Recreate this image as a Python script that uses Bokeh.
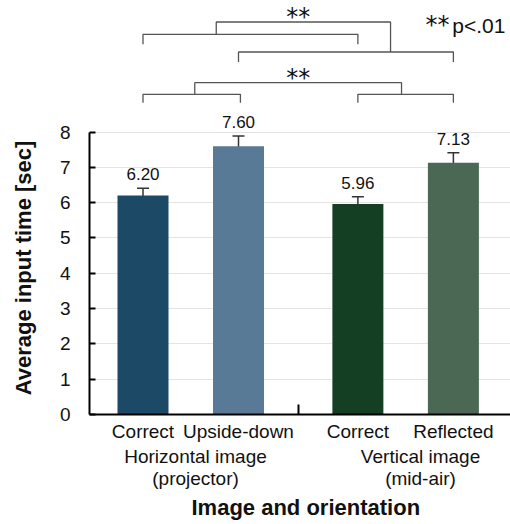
import math
from bokeh.plotting import figure
from bokeh.layouts import row
from bokeh.models import (Range1d, FixedTicker, Label, Whisker, TeeHead,
                          ColumnDataSource, LinearAxis, Title)
from bokeh.core.properties import value
from bokeh.embed import file_html
from bokeh.resources import INLINE

# ---- data ----
categories = ["Correct", "Upside-down", "Correct", "Reflected"]
group_names = ["Horizontal image", "Vertical image"]
group_subs = ["(projector)", "(mid-air)"]
values = [6.20, 7.60, 5.96, 7.13]
errors = [0.21, 0.29, 0.21, 0.28]
y_ticks = [0, 1, 2, 3, 4, 5, 6, 7, 8]
sig_label = "**"
p_label = "p<.01"
x_title = "Image and orientation"
y_title = "Average input time [sec]"

# ---- layout ----
bar_x = [0.0, 1.0, 2.25, 3.25]
group_x = [0.55, 2.906]
sep_x = 1.625
label_gap = 0.39
colors = ["#1b4966", "#587a96", "#143f23", "#4a6854"]
FONT = "Liberation Sans"
TXT = "#111111"
H = 524
BOTTOM = 110
FRAME_H = H - BOTTOM
LEFT_W = 40

upper = [v + e for v, e in zip(values, errors)]
lower = [v - e for v, e in zip(values, errors)]
src = ColumnDataSource(dict(
    x=bar_x, top=values, upper=upper, lower=lower, color=colors,
    lab=["%.2f" % v for v in values],
    lab_y=[u + label_gap for u in upper],
))

# ---- y-axis title strip (frame aligned with the main frame) ----
pt = figure(width=LEFT_W, height=H, output_backend="svg", toolbar_location=None,
            x_range=Range1d(0, LEFT_W), y_range=Range1d(0, FRAME_H),
            x_axis_type=None, y_axis_type=None,
            min_border_left=0, min_border_right=0, min_border_top=0,
            min_border_bottom=BOTTOM)
pt.outline_line_color = None
pt.grid.visible = False
pt.text(x=[22.5], y=[FRAME_H - 267.5], text=[y_title], angle=math.pi / 2,
        text_align="center", text_baseline="middle",
        text_font=value(FONT), text_font_style="bold", text_font_size="22px",
        text_color=TXT)

# ---- main chart ----
p = figure(width=510 - LEFT_W, height=H, output_backend="svg", toolbar_location=None,
           x_range=Range1d(-0.5602, 3.848), y_range=Range1d(0, 11.725),
           min_border_left=89 - LEFT_W, min_border_right=0, min_border_top=0,
           min_border_bottom=BOTTOM)
p.outline_line_color = None
p.background_fill_color = "white"
p.border_fill_color = "white"

# grid
p.xgrid.visible = False
p.ygrid.ticker = FixedTicker(ticks=y_ticks)
p.ygrid.grid_line_color = "#e4e4e4"
p.ygrid.grid_line_width = 1

# bars
p.vbar(x="x", top="top", bottom=0, width=0.534, fill_color="color", line_color=None, source=src)

# error bars
wh = Whisker(source=src, base="x", upper="upper", lower="lower",
             line_color="#333333", line_width=1.5,
             upper_head=TeeHead(size=12, line_color="#333333", line_width=1.5),
             lower_head=TeeHead(size=12, line_color="#333333", line_width=1.5))
p.add_layout(wh)

# value labels
p.text(x="x", y="lab_y", text="lab", source=src,
       text_align="center", text_baseline="alphabetic",
       text_font=value(FONT), text_font_size="17px", text_color=TXT)

# y axis
ya = p.yaxis[0]
ya.ticker = FixedTicker(ticks=y_ticks)
ya.bounds = (0, 8)
ya.axis_line_width = 2
ya.axis_line_color = "black"
ya.major_tick_in = 6
ya.major_tick_out = 0
ya.major_tick_line_width = 2
ya.minor_tick_line_color = None
ya.major_label_standoff = 19
ya.major_label_text_font = FONT
ya.major_label_text_font_size = "19px"
ya.major_label_text_color = TXT

# x axis (bar labels)
xa = p.xaxis[0]
xa.ticker = FixedTicker(ticks=bar_x, minor_ticks=[sep_x])
xa.major_label_overrides = {bx: c for bx, c in zip(bar_x, categories)}
xa.axis_line_width = 2
xa.axis_line_color = "black"
xa.major_tick_in = 0
xa.major_tick_out = 0
xa.minor_tick_in = 10
xa.minor_tick_out = 0
xa.minor_tick_line_width = 2
xa.minor_tick_line_color = "black"
xa.major_label_standoff = 6
xa.major_label_text_font = FONT
xa.major_label_text_font_size = "19px"
xa.major_label_text_color = TXT


def group_axis(labels, standoff):
    ax = LinearAxis(ticker=FixedTicker(ticks=group_x),
                    major_label_overrides={gx: t for gx, t in zip(group_x, labels)})
    ax.axis_line_color = None
    ax.major_tick_line_color = None
    ax.minor_tick_line_color = None
    ax.major_tick_in = 0
    ax.major_tick_out = 0
    ax.major_label_standoff = standoff
    ax.major_label_text_font = FONT
    ax.major_label_text_font_size = "19px"
    ax.major_label_text_color = TXT
    return ax


p.add_layout(group_axis(group_names, 1), "below")
p.add_layout(group_axis(group_subs, -2), "below")

p.add_layout(Title(text=x_title, align="left", offset=102, standoff=2,
                   text_font=FONT, text_font_style="bold", text_font_size="22px",
                   text_color=TXT), "below")

# significance brackets
b0, b1, b2, b3 = bar_x
A_h, A_leg = 10.767, 10.484
B_h, B_leg = 10.266, 9.983
U_top = 11.116
C_h, C_leg = 9.068, 8.830
L_top = 9.397
xs = [
    [b0, b0, b2, b2],
    [b1, b1, b3, b3],
    [0.767, 0.767, 2.592, 2.592],
    [b0, b0, b1 + 0.02, b1 + 0.02],
    [b2, b2, b3, b3],
    [0.542, 0.542, 2.707, 2.707],
]
ys = [
    [A_leg, A_h, A_h, A_leg],
    [B_leg, B_h, B_h, B_leg],
    [A_h, U_top, U_top, B_h],
    [C_leg, C_h, C_h, C_leg],
    [C_leg, C_h, C_h, C_leg],
    [C_h, L_top, L_top, C_h],
]
p.multi_line(xs=xs, ys=ys, line_color="#555555", line_width=1.3)

for yy in (11.27, 9.52):
    p.add_layout(Label(x=sep_x, y=yy, text=sig_label, text_align="center",
                       text_baseline="alphabetic", text_font="DejaVu Sans",
                       text_font_size="24px", text_color=TXT))

p.add_layout(Label(x=2.958, y=11.02, text=sig_label, text_align="left",
                   text_baseline="alphabetic", text_font="DejaVu Sans",
                   text_font_size="24px", text_color=TXT))
p.add_layout(Label(x=3.238, y=11.03, text=p_label, text_align="left",
                   text_baseline="alphabetic", text_font=FONT,
                   text_font_size="21px", text_color=TXT))

layout = row(pt, p)
open("out.html", "w").write(file_html(layout, INLINE))
